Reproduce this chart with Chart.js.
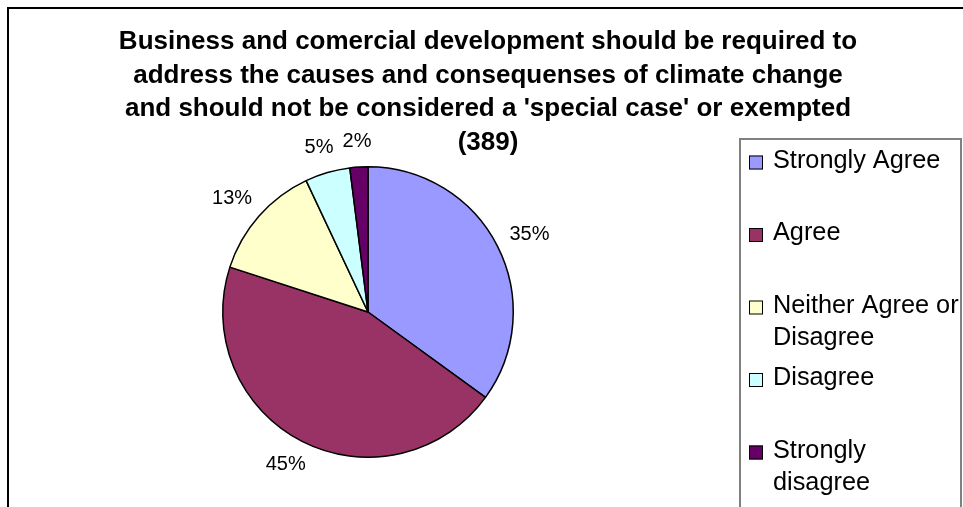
<!DOCTYPE html>
<html>
<head>
<meta charset="utf-8">
<script src="https://cdn.jsdelivr.net/npm/chart.js@4.4.1/dist/chart.umd.min.js"></script>
<style>
  html, body { margin: 0; padding: 0; background: #fff; }
  #wrap { width: 963px; height: 507px; }
</style>
</head>
<body>
<div id="wrap"><canvas id="pie" width="963" height="507"></canvas></div>
<script>
const titleLines = [
  'Business and comercial development should be required to',
  'address the causes and consequenses of climate change',
  "and should not be considered a 'special case' or exempted",
  '(389)'
]
const categories = ['Strongly Agree', 'Agree', 'Neither Agree or Disagree', 'Disagree', 'Strongly disagree']
// legend text as it wraps inside the legend box
const legendLines = [['Strongly Agree'], ['Agree'], ['Neither Agree or', 'Disagree'], ['Disagree'], ['Strongly', 'disagree']]
const percents = [35, 45, 13, 5, 2]
const sliceColors = ['#9999ff', '#993366', '#ffffcc', '#ccffff', '#660066']

const font = '"Liberation Sans", Arial, sans-serif'

// white page with the black frame on the top and left
const framePlugin = {
  id: 'frame',
  beforeDraw(chart) {
    const ctx = chart.ctx
    ctx.save()
    ctx.fillStyle = '#fff'
    ctx.fillRect(0, 0, chart.width, chart.height)
    ctx.strokeStyle = '#000'
    ctx.lineWidth = 2
    ctx.beginPath()
    ctx.moveTo(8, chart.height)
    ctx.lineTo(8, 8)
    ctx.lineTo(chart.width, 8)
    ctx.stroke()
    ctx.restore()
  }
}

const titlePlugin = {
  id: 'titleText',
  afterDraw(chart) {
    const ctx = chart.ctx
    ctx.save()
    ctx.font = 'bold 26px ' + font
    ctx.fillStyle = '#000'
    ctx.textAlign = 'center'
    ctx.textBaseline = 'alphabetic'
    titleLines.forEach((line, i) => {
      ctx.fillText(line, 488, 49 + i * 33.7)
    })
    ctx.restore()
  }
}

// percentage labels just outside each slice
const sliceLabelPlugin = {
  id: 'sliceLabels',
  afterDatasetsDraw(chart) {
    const ctx = chart.ctx
    const meta = chart.getDatasetMeta(0)
    ctx.save()
    ctx.font = '20px ' + font
    ctx.fillStyle = '#000'
    ctx.textAlign = 'center'
    ctx.textBaseline = 'middle'
    meta.data.forEach((arc, i) => {
      const p = arc.getProps(['x', 'y', 'startAngle', 'endAngle', 'outerRadius'], true)
      const mid = (p.startAngle + p.endAngle) / 2
      const text = chart.data.datasets[0].data[i] + '%'
      const w = ctx.measureText(text).width
      const h = 20
      const r = p.outerRadius + 16
      const cx = p.x + Math.cos(mid) * (r + w / 2)
      const cy = p.y + Math.sin(mid) * (r + h / 2)
      ctx.fillText(text, cx, cy)
    })
    ctx.restore()
  }
}

// legend box on the right, entries spread evenly down the box
const legendPlugin = {
  id: 'sideLegend',
  afterDraw(chart) {
    const ctx = chart.ctx
    const ds = chart.data.datasets[0]
    const boxLeft = 740, boxRight = 961, boxTop = 139
    ctx.save()
    ctx.strokeStyle = '#808080'
    ctx.lineWidth = 2
    ctx.beginPath()
    ctx.moveTo(boxLeft, chart.height + 2)
    ctx.lineTo(boxLeft, boxTop)
    ctx.lineTo(boxRight, boxTop)
    ctx.lineTo(boxRight, chart.height + 2)
    ctx.stroke()

    ctx.font = '25.3px ' + font
    ctx.textAlign = 'left'
    ctx.textBaseline = 'alphabetic'
    chart.data.labels.forEach((label, i) => {
      const cy = 162.5 + i * 72.5
      ctx.fillStyle = ds.backgroundColor[i]
      ctx.fillRect(749, cy - 7, 14, 14)
      ctx.strokeStyle = '#000'
      ctx.lineWidth = 1
      ctx.strokeRect(749.5, cy - 6.5, 13, 13)
      ctx.fillStyle = '#000'
      legendLines[i].forEach((line, j) => {
        ctx.fillText(line, 773, cy + 5 + j * 32)
      })
    })
    ctx.restore()
  }
}

const data = {
  labels: categories,
  datasets: [{
    data: percents,
    backgroundColor: sliceColors,
    borderColor: '#000',
    borderWidth: 1.5,
    hoverOffset: 0
  }]
}

new Chart(document.getElementById('pie'), {
  type: 'pie',
  data,
  options: {
    responsive: false,
    animation: false,
    devicePixelRatio: 1,
    layout: {
      padding: { left: 222, right: 449, top: 166, bottom: 49 }
    },
    plugins: {
      legend: { display: false },
      title: { display: false },
      tooltip: { enabled: false }
    }
  },
  plugins: [framePlugin, titlePlugin, sliceLabelPlugin, legendPlugin]
})
</script>
</body>
</html>
